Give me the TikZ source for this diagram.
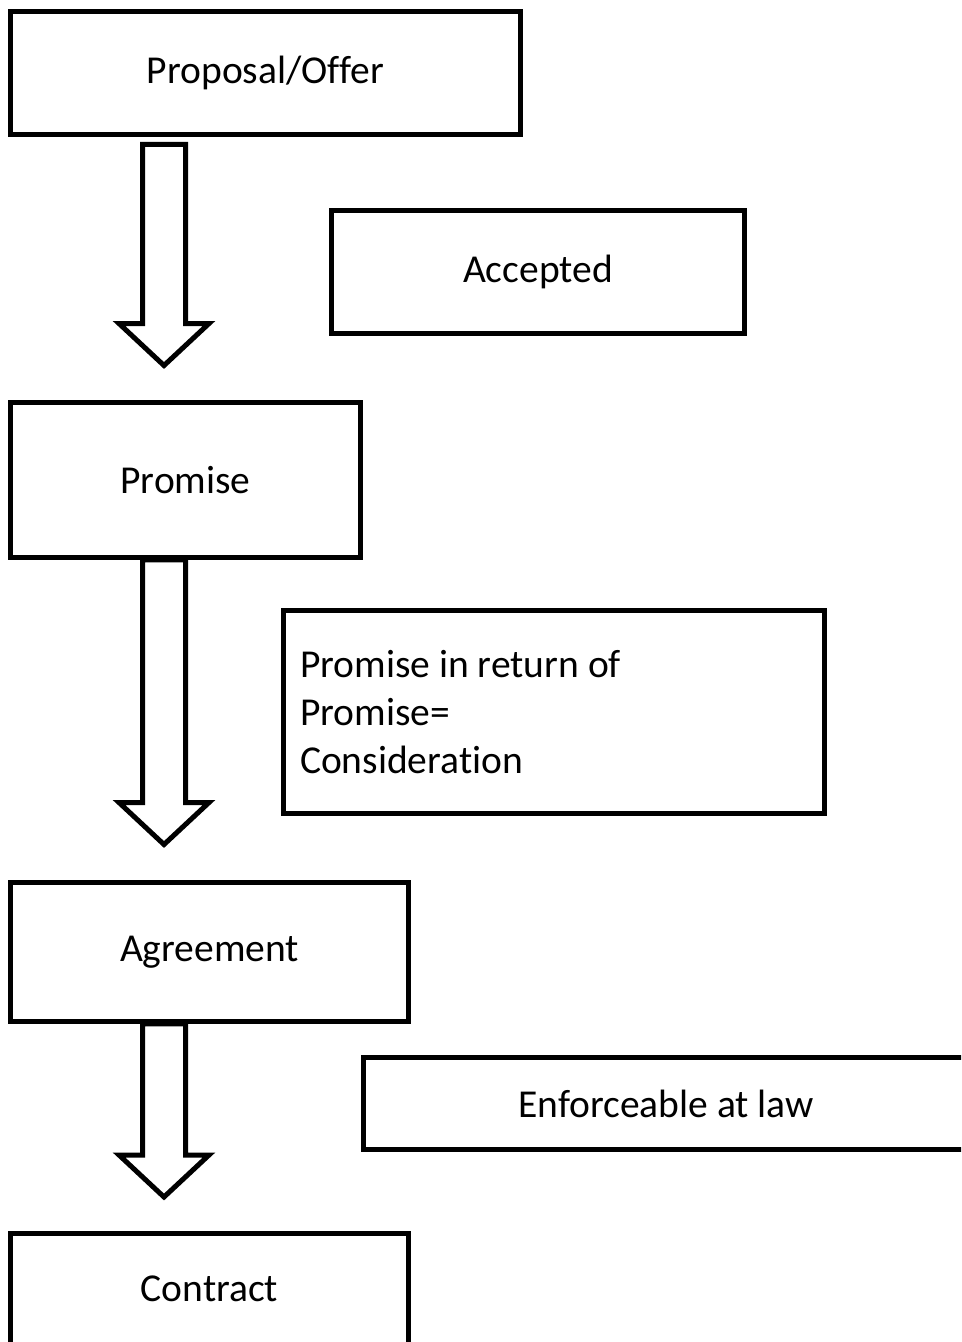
\documentclass[tikz,border=0pt]{standalone}
\usepackage{fontspec}
\setmainfont{Carlito}[Ligatures=NoCommon]
\usetikzlibrary{calc}
% hollow block arrow from a top point to a tip point
\newcommand{\blockarrow}[2]{%
  \draw[hollowarrow] ($(#1)+(-21.5,0)$) -- ($(#2)+(-21.5,-42)$) -- ($(#2)+(-45,-42)$) -- (#2)
    -- ($(#2)+(45,-42)$) -- ($(#2)+(21.5,-42)$) -- ($(#1)+(21.5,0)$) -- cycle;}
\begin{document}
\begin{tikzpicture}[x=0.02cm,y=-0.02cm,
  box/.style={draw, rectangle, line width=0.1cm, font=\fontsize{22.5}{27.3}\selectfont},
  hollowarrow/.style={line width=0.1cm, line join=miter}]
\useasboundingbox (0,0) rectangle (961,1342);
\clip (0,0) rectangle (961,1342);
\node[box, minimum width=10.2cm, minimum height=2.48cm] (offer) at (265.5,73) {Proposal/Offer};
\node[box, minimum width=8.26cm, minimum height=2.46cm] (accepted) at (538,272) {Accepted};
\node[box, minimum width=7cm, minimum height=3.1cm] (promise) at (185.5,480) {Promise};
\node[box, minimum width=10.82cm, minimum height=4.08cm, text width=10.16cm, align=flush left, inner xsep=0.33cm] (consid) at (554,712) {Promise in return of\\Promise=\\Consideration};
\node[box, minimum width=7.96cm, minimum height=2.78cm] (agreement) at (209.5,952) {Agreement};
\node[box, minimum width=12.1cm, minimum height=1.84cm] (enforce) at (666,1103.5) {Enforceable at law};
\node[box, minimum width=7.96cm, minimum height=2.22cm] (contract) at (209.5,1289) {Contract};
\coordinate (tip1) at (164,365.5);
\coordinate (top1) at ($(offer.south -| tip1)+(0,7)$);
\blockarrow{top1}{tip1}
\coordinate (tip2) at (164,844.5);
\coordinate (top2) at (promise.south -| tip2);
\blockarrow{top2}{tip2}
\coordinate (tip3) at (164,1197);
\coordinate (top3) at (agreement.south -| tip3);
\blockarrow{top3}{tip3}
\end{tikzpicture}
\end{document}
